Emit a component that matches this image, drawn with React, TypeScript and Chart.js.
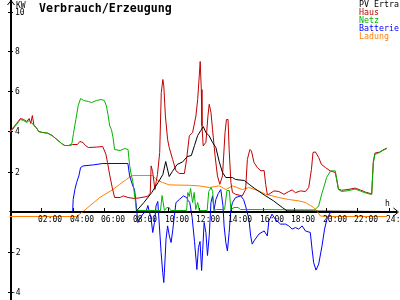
import React, { useEffect, useRef } from "react";
import { Chart, registerables } from "chart.js";

Chart.register(...registerables);

// ---- data (hours, kW) ----
const pvErtrag: [number, number][] = [
  [0, 0], [8.0, 0], [8.5, 0.45], [9.0, 0.95], [9.4, 1.45], [9.7, 1.85], [9.88, 2.5], [10.1, 1.75],
  [10.3, 2.0], [10.6, 2.35], [10.95, 2.48], [11.25, 2.75], [11.5, 2.8], [11.7, 3.3], [11.9, 3.8],
  [12.1, 4.05], [12.25, 4.25], [12.42, 3.95], [12.63, 3.78], [12.84, 3.45], [13.05, 3.2], [13.26, 2.5],
  [13.47, 1.95], [13.68, 1.7], [14.1, 1.7], [14.3, 1.6], [14.85, 1.55], [15.15, 1.36], [15.5, 1.15],
  [16.2, 0.78], [16.7, 0.53], [17.25, 0.2], [17.55, 0.03], [23.85, 0],
];

const haus: [number, number][] = [
  [0, 4.0], [0.2, 4.15], [0.45, 4.4], [0.7, 4.65], [0.9, 4.6], [1.1, 4.5], [1.25, 4.65], [1.35, 4.4],
  [1.45, 4.8], [1.55, 4.3], [1.7, 4.2], [1.85, 4.0], [2.1, 3.95], [2.4, 3.92], [2.7, 3.8], [3.0, 3.6],
  [3.3, 3.4], [3.5, 3.3], [3.8, 3.3], [4.0, 3.35], [4.3, 3.35], [4.45, 3.5], [4.65, 3.45], [4.8, 3.3],
  [5.0, 3.2], [5.5, 3.22], [5.9, 3.25], [6.1, 2.86], [6.2, 2.45], [6.35, 1.78], [6.5, 1.2], [6.65, 0.7],
  [7.0, 0.7], [7.2, 0.78], [7.5, 0.7], [7.9, 0.65], [8.2, 0.68], [8.7, 0.75], [8.9, 0.9], [8.96, 2.28],
  [9.05, 2.0], [9.2, 1.1], [9.28, 1.5], [9.36, 1.86], [9.5, 2.95], [9.6, 5.95], [9.7, 6.6], [9.76, 6.28],
  [9.86, 4.78], [10.0, 3.6], [10.1, 3.2], [10.32, 2.6], [10.53, 2.03], [10.74, 1.9], [11.06, 1.9],
  [11.2, 2.6], [11.37, 3.78], [11.58, 3.95], [11.79, 4.78], [11.9, 5.6], [12.0, 6.78], [12.06, 7.5],
  [12.13, 6.1], [12.17, 4.28], [12.25, 3.28], [12.42, 3.46], [12.55, 4.78], [12.63, 5.36], [12.74, 4.96],
  [12.84, 4.1], [13.0, 2.78], [13.15, 1.78], [13.3, 1.36], [13.47, 1.78], [13.63, 3.95], [13.72, 4.6],
  [13.82, 4.6], [13.89, 3.1], [14.0, 1.45], [14.1, 0.95], [14.3, 0.86], [14.72, 0.78], [14.93, 1.1],
  [15.04, 2.6], [15.2, 3.1], [15.3, 3.03], [15.46, 2.45], [15.67, 2.2], [15.9, 2.03], [16.1, 2.05],
  [16.2, 1.36], [16.3, 0.86], [16.4, 0.86], [16.72, 1.03], [17.03, 1.0], [17.35, 0.86], [17.66, 1.0],
  [17.87, 1.08], [18.08, 0.94], [18.4, 1.03], [18.71, 1.0], [18.92, 1.2], [19.09, 2.1], [19.19, 2.95],
  [19.34, 2.98], [19.55, 2.7], [19.72, 2.36], [19.97, 2.2], [20.28, 2.03], [20.6, 1.95], [20.8, 1.12],
  [21.0, 1.06], [21.4, 1.1], [21.85, 1.17], [22.2, 1.07], [22.5, 0.97], [22.9, 0.88], [23.0, 2.47],
  [23.1, 2.92], [23.4, 2.97], [23.6, 3.07], [23.85, 3.17],
];

const netz: [number, number][] = [
  [0, 3.95], [0.2, 4.1], [0.45, 4.35], [0.7, 4.6], [0.9, 4.55], [1.1, 4.45], [1.25, 4.55], [1.4, 4.45],
  [1.55, 4.3], [1.7, 4.2], [1.85, 4.0], [2.1, 3.95], [2.4, 3.92], [2.7, 3.8], [3.0, 3.6], [3.3, 3.4],
  [3.5, 3.3], [3.75, 3.3], [3.95, 3.4], [4.05, 3.9], [4.2, 4.6], [4.35, 5.3], [4.5, 5.65], [4.7, 5.55],
  [5.0, 5.5], [5.2, 5.45], [5.5, 5.55], [5.8, 5.6], [6.0, 5.55], [6.13, 5.28], [6.23, 4.86], [6.34, 4.28],
  [6.45, 4.1], [6.55, 3.7], [6.65, 3.1], [7.0, 3.05], [7.3, 3.15], [7.5, 3.1], [7.6, 2.3], [7.7, 1.85],
  [7.8, 1.5], [7.95, 0.6], [8.02, 0.05], [9.55, 0.05], [9.65, 0.8], [9.8, 0.05], [9.95, 0.2], [10.1, 0.2],
  [10.2, 0.05], [11.2, 0.05], [11.28, 0.95], [11.37, 0.75], [11.45, 1.15], [11.58, 0.45], [11.68, 0.95],
  [11.78, 0.1], [11.9, 0.45], [12.0, 0.05], [12.5, 0.05], [12.6, 1.0], [12.75, 1.2], [12.85, 1.0],
  [12.92, 0.05], [13.1, 0.1], [13.6, 0.1], [13.75, 1.05], [13.9, 1.05], [14.0, 0.1], [14.2, 0.2],
  [14.45, 0.2], [14.6, 0.1], [19.3, 0.08], [19.55, 0.28], [19.75, 0.9], [19.9, 1.28], [20.05, 1.7],
  [20.3, 2.03], [20.6, 2.03], [20.8, 1.1], [21.0, 1.0], [21.4, 1.04], [21.85, 1.12], [22.2, 1.02],
  [22.5, 0.93], [22.9, 0.85], [23.0, 2.4], [23.1, 2.85], [23.4, 2.95], [23.6, 3.05], [23.85, 3.15],
];

const batterie: [number, number][] = [
  [0, 0], [4.0, 0], [4.03, 0.6], [4.14, 1.1], [4.25, 1.45], [4.39, 1.78], [4.5, 2.2], [4.66, 2.28],
  [5.3, 2.33], [5.9, 2.4], [7.49, 2.4], [7.6, 1.78], [7.8, 1.28], [7.91, 1.1], [8.0, 0.45], [8.12, -0.55],
  [8.23, -0.38], [8.43, -0.13], [8.65, 0.03], [8.75, 0.3], [8.96, -0.38], [9.06, -1.05], [9.17, -0.55],
  [9.27, 0.28], [9.38, 0.5], [9.48, -0.72], [9.59, -2.05], [9.69, -3.05], [9.76, -3.55], [9.84, -2.38],
  [9.9, -1.38], [10.0, -0.72], [10.11, -1.22], [10.22, -1.55], [10.32, -0.97], [10.43, -0.2], [10.53, 0.45],
  [10.74, 0.6], [11.0, 0.78], [11.2, 0.7], [11.3, 0.55], [11.4, 0.45], [11.55, -0.3], [11.7, -1.5],
  [11.85, -2.9], [11.95, -1.8], [12.05, -1.5], [12.15, -2.95], [12.22, -1.9], [12.31, -0.55], [12.42, -1.05],
  [12.52, -2.2], [12.63, -1.22], [12.74, 0.45], [12.84, 0.78], [12.94, 0.1], [13.05, 0.6], [13.2, 0.9],
  [13.36, 1.1], [13.5, 0.3], [13.57, -0.72], [13.68, -1.55], [13.78, -1.97], [13.89, -1.05], [14.0, 0.1],
  [14.1, 0.45], [14.3, 0.7], [14.62, 0.78], [14.8, 0.6], [14.93, 0.27], [15.14, -0.38], [15.25, -1.22],
  [15.35, -1.63], [15.46, -1.47], [15.77, -1.13], [16.1, -0.97], [16.3, -1.22], [16.4, -0.47], [16.6, -0.13],
  [16.8, -0.38], [17.14, -0.63], [17.45, -0.63], [17.66, -0.72], [17.87, -0.88], [18.08, -0.8], [18.29, -0.88],
  [18.5, -0.72], [18.71, -0.97], [19.02, -1.05], [19.13, -1.88], [19.23, -2.55], [19.38, -2.93],
  [19.55, -2.63], [19.76, -1.72], [19.92, -0.88], [20.07, -0.38], [20.28, -0.05], [20.4, 0], [23.85, 0],
];

const ladung: [number, number][] = [
  [0, -0.25], [4.25, -0.25], [4.66, 0], [5.08, 0.28], [5.71, 0.7], [6.55, 1.1], [6.97, 1.36], [7.39, 1.6],
  [7.7, 1.78], [7.8, 1.8], [9.06, 1.8], [9.27, 1.6], [9.69, 1.45], [10.1, 1.33], [11.37, 1.31], [12.0, 1.28],
  [12.63, 1.2], [13.26, 1.28], [13.68, 1.1], [14.1, 1.28], [14.72, 1.1], [15.14, 1.2], [15.77, 1.03],
  [16.2, 0.86], [17.03, 0.7], [17.66, 0.6], [18.3, 0.53], [18.71, 0.45], [19.03, 0.3], [19.23, 0.2],
  [19.44, 0.03], [19.65, -0.22], [19.97, -0.25], [23.85, -0.25],
];

const seriesNames = ["PV Ertra", "Haus", "Netz", "Batterie", "Ladung"];
const hourTicks = [2, 4, 6, 8, 10, 12, 14, 16, 18, 20, 22, 24];
const kwTicks = [10, 8, 6, 4, 2, -2, -4];
const title = "Verbrauch/Erzeugung";
const yUnit = "KW";
const xUnit = "h";

const COLORS = ["#000000", "#c00000", "#00b400", "#0000ff", "#ff8000"];
// lower = drawn on top
const DRAW_ORDER = [0, 2, 1, 3, 4];
const MONO = "'DejaVu Sans Mono', monospace";

const toPts = (arr: [number, number][]) => arr.map(([x, y]) => ({ x, y }));

const decorPlugin = {
  id: "decor",
  beforeDatasetsDraw(chart: any) {
    const ctx = chart.ctx as CanvasRenderingContext2D;
    const xs = chart.scales.x;
    const ys = chart.scales.y;
    const px0 = xs.getPixelForValue(0);
    const py0 = ys.getPixelForValue(0);
    const axX = Math.round(px0 + 0.6);
    const axY = Math.floor(py0);
    ctx.save();
    ctx.fillStyle = "#000";
    ctx.fillRect(axX, 0, 2, 300);
    ctx.fillRect(axX, axY, 397 - axX, 2);
    hourTicks.forEach((h) => {
      const tx = Math.round(xs.getPixelForValue(h));
      ctx.fillRect(tx, axY - 3, 1, 4);
    });
    kwTicks.forEach((v) => {
      const ty = Math.round(ys.getPixelForValue(v));
      ctx.fillRect(8, ty, 5, 1);
    });
    ctx.strokeStyle = "#000";
    ctx.lineWidth = 1;
    ctx.beginPath();
    ctx.moveTo(393.5, axY - 3);
    ctx.lineTo(398.5, axY + 1);
    ctx.lineTo(393.5, axY + 5);
    ctx.stroke();
    ctx.beginPath();
    ctx.moveTo(7.5, 5);
    ctx.lineTo(11, 0.5);
    ctx.lineTo(14.5, 5);
    ctx.stroke();
    ctx.restore();
  },
  afterDraw(chart: any) {
    const ctx = chart.ctx as CanvasRenderingContext2D;
    const xs = chart.scales.x;
    const ys = chart.scales.y;
    ctx.save();
    ctx.textBaseline = "alphabetic";
    ctx.textAlign = "left";
    ctx.fillStyle = "#000";
    ctx.font = `bold 11.6px ${MONO}`;
    ctx.fillText(title, 39, 11.5);
    ctx.font = `8.3px ${MONO}`;
    seriesNames.forEach((n, i) => {
      ctx.fillStyle = COLORS[i];
      ctx.fillText(n, 359, 7 + i * 8);
    });
    ctx.fillStyle = "#000";
    ctx.font = `8px ${MONO}`;
    ctx.fillText(yUnit, 16, 8);
    ctx.fillText(xUnit, 385, 206);
    kwTicks.forEach((v) => {
      const ty = Math.round(ys.getPixelForValue(v));
      ctx.fillText(String(v), v < 0 ? 11 : 15, ty + 3);
    });
    const axY = Math.floor(ys.getPixelForValue(0));
    hourTicks.forEach((h) => {
      const tx = Math.round(xs.getPixelForValue(h));
      const lbl = (h < 10 ? "0" : "") + h + ":00";
      ctx.fillText(lbl, tx - 3, axY + 11);
    });
    ctx.restore();
  },
};

export default function App() {
  const ref = useRef<HTMLCanvasElement | null>(null);
  useEffect(() => {
    if (!ref.current) return;
    const series = [pvErtrag, haus, netz, batterie, ladung];
    const chart = new Chart(ref.current, {
      type: "line",
      data: {
        datasets: series.map((s, i) => ({
          label: seriesNames[i],
          data: toPts(s),
          borderColor: COLORS[i],
          backgroundColor: COLORS[i],
          borderWidth: 1,
          pointRadius: 0,
          tension: 0,
          fill: false,
          order: DRAW_ORDER[i],
        })),
      },
      options: {
        animation: false,
        responsive: false,
        maintainAspectRatio: false,
        layout: { padding: { left: 9.4, right: 10.9, top: 0, bottom: 0 } },
        plugins: { legend: { display: false }, title: { display: false }, tooltip: { enabled: false } },
        scales: {
          x: { type: "linear", min: 0, max: 24, display: false },
          y: { type: "linear", min: -4.425, max: 10.575, display: false },
        },
      },
      plugins: [decorPlugin],
    });
    return () => chart.destroy();
  }, []);
  return (
    <div style={{ position: "fixed", left: 0, top: 0, width: 400, height: 300, background: "#fff" }}>
      <canvas ref={ref} width={400} height={300} style={{ display: "block", width: 400, height: 300 }} />
    </div>
  );
}
